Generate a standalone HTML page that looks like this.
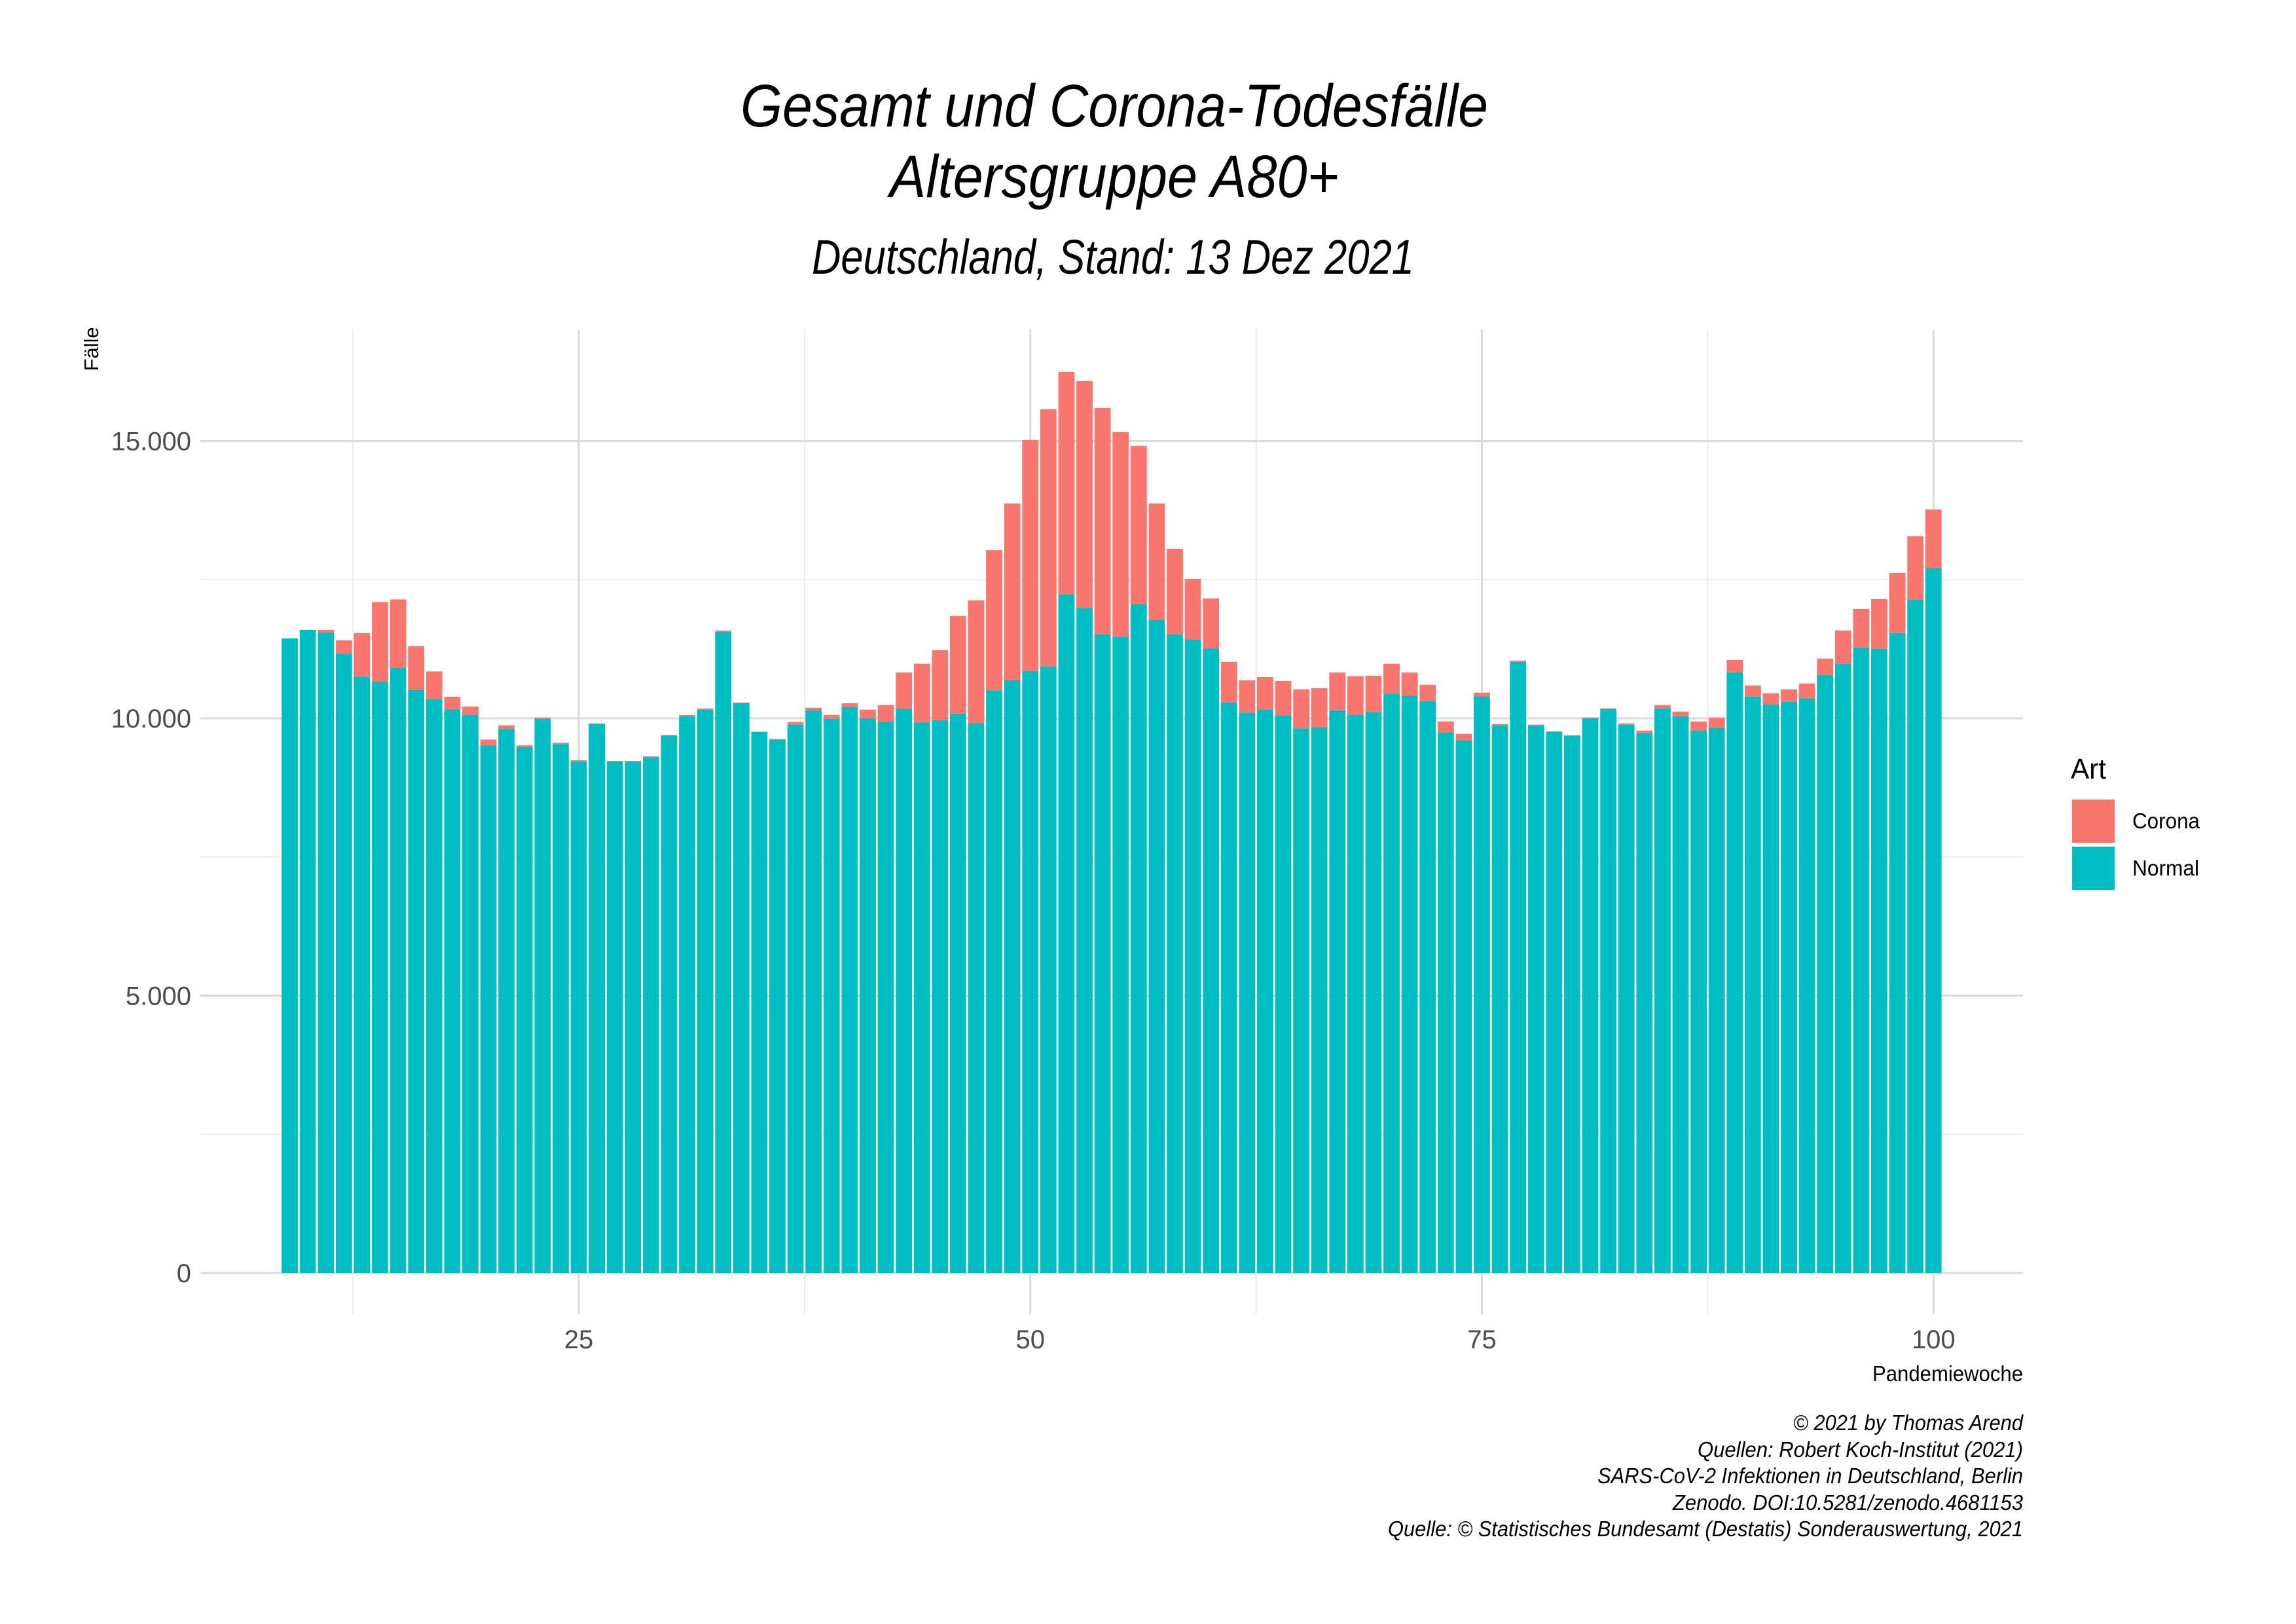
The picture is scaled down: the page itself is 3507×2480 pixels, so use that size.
<!DOCTYPE html>
<html><head><meta charset="utf-8"><style>
html,body{margin:0;padding:0;background:#fff}
svg{display:block}
text{font-family:"Liberation Sans Narrow","Liberation Sans",sans-serif}
</style></head><body>
<svg id="chart" width="3507" height="2480" viewBox="0 0 3507 2480" xmlns="http://www.w3.org/2000/svg">
<rect width="3507" height="2480" fill="#fff"/>
<g id="grid"></g>
<g id="bars"></g>
<g id="axes"></g>
<text x="1702" y="193" font-size="92" font-style="italic" text-anchor="middle" textLength="1142" lengthAdjust="spacingAndGlyphs">Gesamt und Corona-Todesfälle</text>
<text x="1702" y="301" font-size="92" font-style="italic" text-anchor="middle" textLength="686" lengthAdjust="spacingAndGlyphs">Altersgruppe A80+</text>
<text x="1700" y="418" font-size="74" font-style="italic" text-anchor="middle" textLength="920" lengthAdjust="spacingAndGlyphs">Deutschland, Stand: 13 Dez 2021</text>
<text transform="translate(150,533) rotate(-90)" font-size="31" text-anchor="middle">Fälle</text>
<text x="3090" y="2109" font-size="33" text-anchor="end" textLength="230" lengthAdjust="spacingAndGlyphs">Pandemiewoche</text>
<g>
<text x="3163" y="1189" font-size="44" textLength="54" lengthAdjust="spacingAndGlyphs">Art</text>
<rect x="3165" y="1221" width="65" height="66" fill="#F8766D"/>
<rect x="3165" y="1293" width="65" height="66" fill="#00BFC4"/>
<text x="3257" y="1265" font-size="33" textLength="103" lengthAdjust="spacingAndGlyphs">Corona</text>
<text x="3257" y="1337" font-size="33" textLength="102" lengthAdjust="spacingAndGlyphs">Normal</text>
</g>
<g font-size="33" font-style="italic" text-anchor="end">
<text x="3090" y="2184" textLength="351" lengthAdjust="spacingAndGlyphs">© 2021 by Thomas Arend</text>
<text x="3090" y="2225" textLength="497" lengthAdjust="spacingAndGlyphs">Quellen: Robert Koch-Institut (2021)</text>
<text x="3090" y="2265" textLength="650" lengthAdjust="spacingAndGlyphs">SARS-CoV-2 Infektionen in Deutschland, Berlin</text>
<text x="3090" y="2306" textLength="535" lengthAdjust="spacingAndGlyphs">Zenodo. DOI:10.5281/zenodo.4681153</text>
<text x="3090" y="2346" textLength="970" lengthAdjust="spacingAndGlyphs">Quelle: © Statistisches Bundesamt (Destatis) Sonderauswertung, 2021</text>
</g>
</svg>
<script>
const weeks = [9,10,11,12,13,14,15,16,17,18,19,20,21,22,23,24,25,26,27,28,29,30,31,32,33,34,35,36,37,38,39,40,41,42,43,44,45,46,47,48,49,50,51,52,53,54,55,56,57,58,59,60,61,62,63,64,65,66,67,68,69,70,71,72,73,74,75,76,77,78,79,80,81,82,83,84,85,86,87,88,89,90,91,92,93,94,95,96,97,98,99,100];
const normalValues = [11443,11595,11548,11166,10752,10659,10908,10511,10347,10160,10062,9513,9809,9481,9992,9536,9224,9899,9220,9220,9298,9688,10039,10156,11560,10273,9758,9618,9883,10144,9992,10203,10000,9937,10172,9927,9966,10084,9912,10504,10685,10852,10935,12236,11991,11512,11473,12060,11776,11512,11424,11258,10284,10103,10157,10054,9819,9839,10143,10064,10113,10446,10407,10310,9745,9603,10397,9874,11018,9874,9756,9686,10000,10165,9886,9733,10181,10039,9780,9827,10829,10393,10252,10299,10358,10782,10983,11277,11254,11537,12138,12704];
const totalValues = [11443,11595,11595,11408,11536,12098,12144,11302,10846,10390,10214,9618,9875,9513,10016,9559,9244,9910,9232,9232,9314,9700,10062,10179,11583,10285,9758,9630,9934,10191,10062,10273,10157,10240,10827,10984,11228,11845,12128,13033,13875,15020,15572,16247,16081,15597,15161,14912,13875,13058,12515,12163,11018,10685,10744,10675,10524,10543,10827,10759,10768,10984,10827,10605,9945,9721,10464,9898,11041,9886,9768,9697,10016,10181,9910,9780,10240,10122,9945,10016,11053,10593,10452,10523,10629,11077,11584,11973,12150,12621,13282,13765];
const xTickValues = [25,50,75,100];
const xMinorValues = [12.5,37.5,62.5,87.5];
const yTickValues = [0,5000,10000,15000];
const yTickLabels = ["0","5.000","10.000","15.000"];
const yMinorValues = [2500,7500,12500];

const NS = "http://www.w3.org/2000/svg";
const PL = 306, PR = 3090, PT = 503, PB = 2007;
function xs(w){ return 884 + (w - 25) * 27.59; }
function ys(v){ return 1944 - v * 0.0847; }
function mk(tag, attrs, parent){
  const e = document.createElementNS(NS, tag);
  for (const k in attrs) e.setAttribute(k, attrs[k]);
  parent.appendChild(e);
  return e;
}
const grid = document.getElementById('grid');
const bars = document.getElementById('bars');
const axes = document.getElementById('axes');
yMinorValues.forEach(v => {
  const l = mk('line', {x1:PL, x2:PR, y1:ys(v), y2:ys(v), stroke:'#ebebeb', 'stroke-width':2}, grid);
  
  
});
xMinorValues.forEach(v => {
  const l = mk('line', {x1:xs(v), x2:xs(v), y1:PT, y2:PB, stroke:'#ebebeb', 'stroke-width':2}, grid);
  
  
});
yTickValues.forEach((v, i) => {
  const l = mk('line', {x1:PL, x2:PR, y1:ys(v), y2:ys(v), stroke:'#d9d9d9', 'stroke-width':3}, grid);
  
  
  const t = mk('text', {x:292, y:ys(v) + 14, 'font-size':40, fill:'#4d4d4d', 'text-anchor':'end'}, axes);
  t.textContent = yTickLabels[i];
  
  
});
xTickValues.forEach(v => {
  const l = mk('line', {x1:xs(v), x2:xs(v), y1:PT, y2:PB, stroke:'#d9d9d9', 'stroke-width':3}, grid);
  
  
  const t = mk('text', {x:xs(v), y:2059, 'font-size':40, fill:'#4d4d4d', 'text-anchor':'middle'}, axes);
  t.textContent = String(v);
  
  
});
const bw = 24.8;
weeks.forEach((w, i) => {
  const n = normalValues[i], tot = totalValues[i];
  const x = xs(w) - bw / 2;
  if (tot > n) {
    const r = mk('rect', {x:x, y:ys(tot), width:bw, height:ys(n) - ys(tot), fill:'#F8766D'}, bars);
    
    
  }
  const r2 = mk('rect', {x:x, y:ys(n), width:bw, height:ys(0) - ys(n), fill:'#00BFC4'}, bars);
  
  
});
</script>
</body></html>
